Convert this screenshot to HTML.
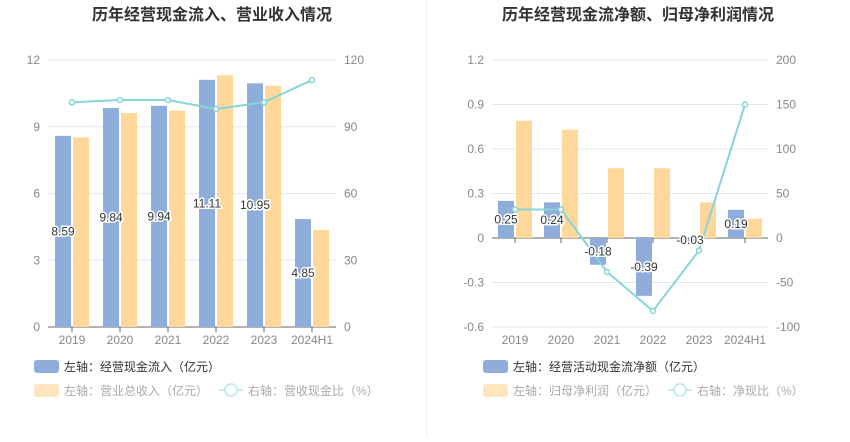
<!DOCTYPE html>
<html><head><meta charset="utf-8"><style>
body{margin:0;background:#fff;width:850px;height:437px;overflow:hidden;font-family:"Liberation Sans","Noto Sans CJK SC",sans-serif}
svg text{font-family:"Liberation Sans","Noto Sans CJK SC",sans-serif}
</style></head><body>
<svg id="s" width="850" height="437" xmlns="http://www.w3.org/2000/svg">
<line x1="427" y1="0" x2="427" y2="437" stroke="#eeeeee"/>
<text x="212" y="20" text-anchor="middle" font-size="16" font-weight="bold" fill="#333">历年经营现金流入、营业收入情况</text>
<text x="638" y="20" text-anchor="middle" font-size="16" font-weight="bold" fill="#333">历年经营现金流净额、归母净利润情况</text>
<g>
<rect x="34" y="360" width="25" height="13" rx="3" fill="#8eadda"/>
<text x="64" y="371" font-size="12" fill="#333">左轴：经营现金流入（亿元）</text>
<rect x="34" y="384" width="25" height="13" rx="3" fill="#fde5c0"/>
<text x="64" y="395" font-size="12" fill="#aaa">左轴：营业总收入（亿元）</text>
<line x1="219" y1="390" x2="243" y2="390" stroke="#c6ecec" stroke-width="2"/><circle cx="231" cy="390" r="6" fill="#fff" stroke="#c6ecec" stroke-width="2"/>
<text x="248" y="395" font-size="12" fill="#aaa">右轴：营收现金比（%）</text>
</g>
<g>
<rect x="483" y="360" width="25" height="13" rx="3" fill="#8eadda"/>
<text x="513" y="371" font-size="12" fill="#333">左轴：经营活动现金流净额（亿元）</text>
<rect x="483" y="384" width="25" height="13" rx="3" fill="#fde5c0"/>
<text x="513" y="395" font-size="12" fill="#aaa">左轴：归母净利润（亿元）</text>
<line x1="668" y1="390" x2="692" y2="390" stroke="#c6ecec" stroke-width="2"/><circle cx="680" cy="390" r="6" fill="#fff" stroke="#c6ecec" stroke-width="2"/>
<text x="697" y="395" font-size="12" fill="#aaa">右轴：净现比（%）</text>
</g>
</svg>
<script>
const categories=["2019","2020","2021","2022","2023","2024H1"];
const leftBlue=[8.59,9.84,9.94,11.11,10.95,4.85];
const leftOrange=[8.52,9.62,9.73,11.32,10.84,4.36];
const leftLine=[101,102,102,98,101,111];
const leftTicksL=[0,3,6,9,12];
const leftTicksR=[0,30,60,90,120];
const rightBlue=[0.25,0.24,-0.18,-0.39,-0.03,0.19];
const rightOrange=[0.79,0.73,0.47,0.47,0.24,0.13];
const rightLine=[32,32,-38,-82,-14,150];
const rightTicksL=[-0.6,-0.3,0,0.3,0.6,0.9,1.2];
const rightTicksR=[-100,-50,0,50,100,150,200];
const NS="http://www.w3.org/2000/svg";
const svg=document.getElementById('s');
function mk(t,a,txt){const e=document.createElementNS(NS,t);for(const k in a)e.setAttribute(k,a[k]);if(txt!==undefined)e.textContent=txt;svg.appendChild(e);return e;}
function chart(o){
 const x0=o.x0,x1=o.x1,yT=60,yB=327,bw=(x1-x0)/categories.length;
 const yL=v=>yB-(v-o.lmin)/(o.lmax-o.lmin)*(yB-yT);
 const yR=v=>yB-(v-o.rmin)/(o.rmax-o.rmin)*(yB-yT);
 const cx=i=>x0+bw*(i+0.5);
 o.tl.forEach((t,i)=>{const y=yL(t);
  const g=mk('line',{x1:x0,x2:x1,y1:y,y2:y,stroke:'#e3e8f3'});
  
  const a=mk('text',{x:x0-8,y:y+4,'text-anchor':'end','font-size':12,fill:'#888'},o.tl[i]);
  
  const b=mk('text',{x:x1+8,y:y+4,'font-size':12,fill:'#888'},o.tr[i]);
  });
 const z=yL(0);
 const ax=mk('line',{x1:x0,x2:x1,y1:z,y2:z,stroke:'#666'});
 
 categories.forEach((c,i)=>{
  const tk=mk('line',{x1:cx(i),x2:cx(i),y1:z,y2:z+5,stroke:'#666'});
  
  const t=mk('text',{x:cx(i),y:yB+17,'text-anchor':'middle','font-size':12,fill:'#888'},c);
  
  const vb=o.blue[i],vo=o.orange[i];
  const b=mk('rect',{x:cx(i)-17,y:Math.min(yL(vb),z),width:16,height:Math.abs(yL(vb)-z),fill:'#8eadda'});
  
  const r=mk('rect',{x:cx(i)+1,y:Math.min(yL(vo),z),width:16,height:Math.abs(yL(vo)-z),fill:'#fed89b'});
  });
 const pts=o.line.map((v,i)=>cx(i)+','+yR(v)).join(' ');
 const pl=mk('polyline',{points:pts,fill:'none',stroke:'#86d5d8','stroke-width':2});
 
 o.line.forEach((v,i)=>{const p=mk('circle',{cx:cx(i),cy:yR(v),r:2.5,fill:'#fff',stroke:'#86d5d8','stroke-width':1.5});
  });
 o.blue.forEach((v,i)=>{const y=(yL(v)+z)/2+4;
  const t=mk('text',{x:cx(i)-9,y:y,'text-anchor':'middle','font-size':12,fill:'#333',stroke:'#fff','stroke-width':3,'paint-order':'stroke'},v.toFixed(2));
  });
}
chart({x0:48,x1:336,lmin:0,lmax:12,rmin:0,rmax:120,tl:leftTicksL,tr:leftTicksR,blue:leftBlue,orange:leftOrange,line:leftLine});
chart({x0:492,x1:768,lmin:-0.6,lmax:1.2,rmin:-100,rmax:200,tl:rightTicksL.map(v=>v===0?'0':v.toFixed(1)),tr:rightTicksR,blue:rightBlue,orange:rightOrange,line:rightLine});
</script>
</body></html>
